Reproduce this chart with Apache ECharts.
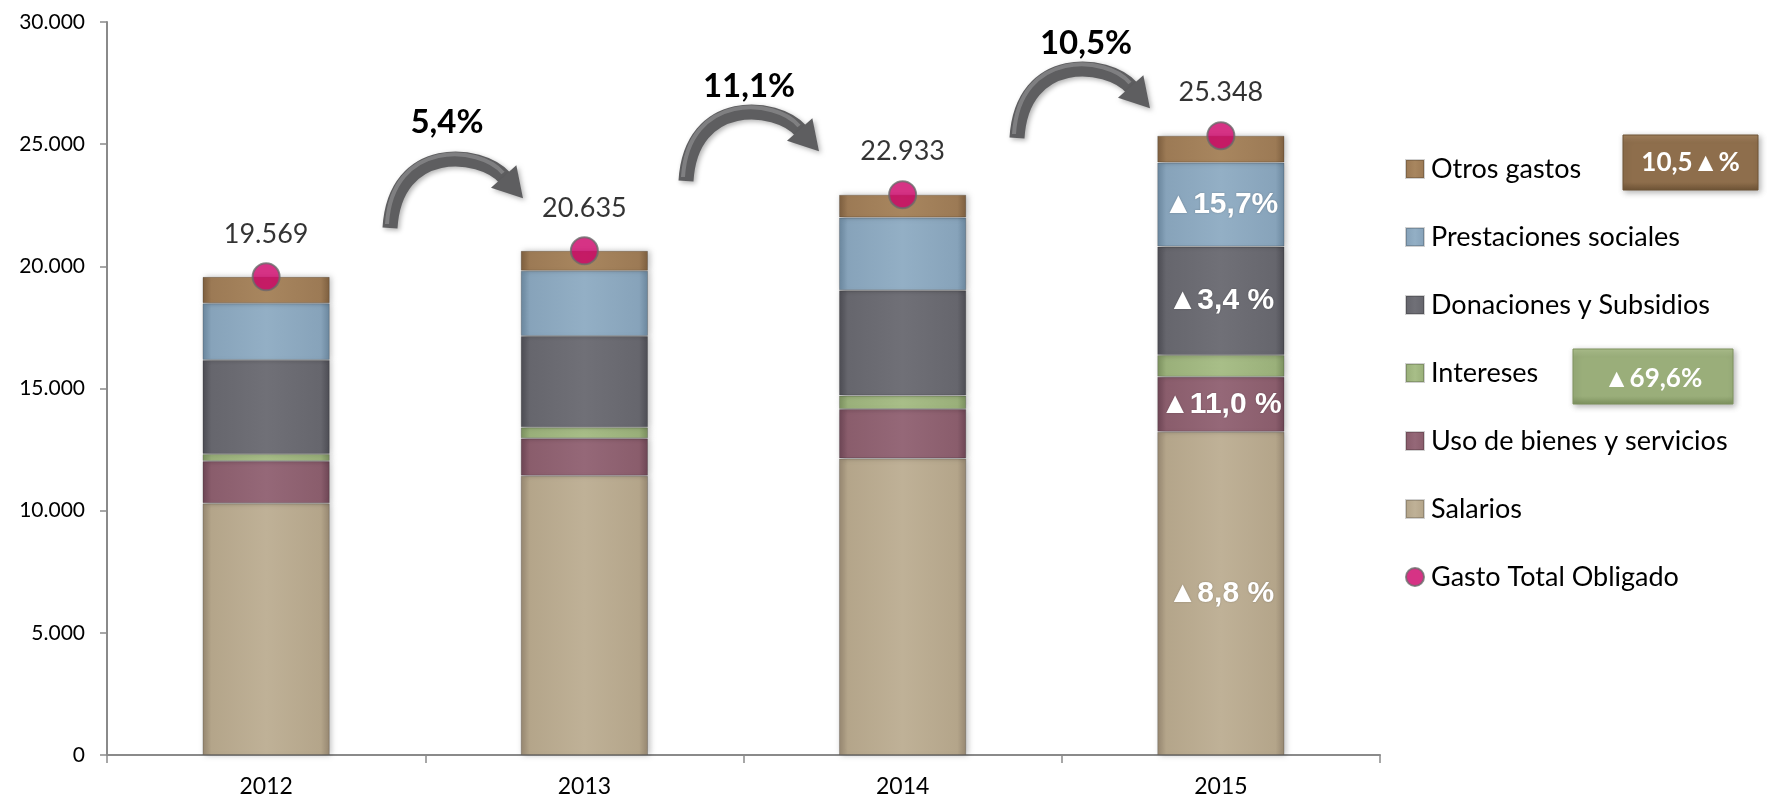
<!DOCTYPE html>
<html>
<head>
<meta charset="utf-8">
<script src="https://cdn.jsdelivr.net/npm/echarts@6/dist/echarts.min.js"></script>
<style>
html,body{margin:0;padding:0;background:#fff;}
#main{width:1773px;height:800px;}
</style>
</head>
<body>
<div id="main"></div>
<script>
const years = ['2012', '2013', '2014', '2015'];
const salarios = [10300, 11430, 12140, 13230];
const usoBienes = [1730, 1530, 2020, 2250];
const intereses = [290, 450, 550, 890];
const donaciones = [3850, 3740, 4310, 4440];
const prestaciones = [2320, 2670, 2980, 3440];
const otrosGastos = [1079, 815, 933, 1098];
const gastoTotal = [19569, 20635, 22933, 25348];
const yTicks = [0, 5000, 10000, 15000, 20000, 25000, 30000];
const totalGrowth = ['5,4%', '11,1%', '10,5%'];
const growth2015 = {
  salarios: '▲8,8 %',
  uso: '▲11,0 %',
  donaciones: '▲3,4 %',
  prestaciones: '▲15,7%'
};
const badgeOtros = '10,5▲%';
const badgeIntereses = '▲69,6%';

const fmt = v => String(v).replace(/\B(?=(\d{3})+(?!\d))/g, '.');

function bevel(base, light, dark) {
  return new echarts.graphic.LinearGradient(0, 0, 1, 0, [
    {offset: 0, color: dark},
    {offset: 0.07, color: base},
    {offset: 0.5, color: light},
    {offset: 0.93, color: base},
    {offset: 1, color: dark}
  ]);
}

const inLabel = {
  show: true, position: 'inside', color: '#fff', fontWeight: 'bold',
  fontFamily: 'Liberation Sans, Arial, sans-serif', fontSize: 30,
  textShadowColor: 'rgba(0,0,0,0.25)', textShadowBlur: 2
};

function withLabel(arr, text) {
  return arr.map((v, i) => (i === 3 && text) ? {value: v, label: Object.assign({}, inLabel, {formatter: text})} : v);
}

function barSeries(name, data, base, light, dark, text) {
  return {
    name: name, type: 'bar', stack: 'g', barWidth: '40%',
    data: withLabel(data, text),
    itemStyle: {
      color: bevel(base, light, dark),
      borderColor: 'rgba(0,0,0,0.18)', borderWidth: 1,
      shadowBlur: 6, shadowColor: 'rgba(0,0,0,0.25)', shadowOffsetX: 2
    },
    emphasis: {disabled: true}
  };
}

const chart = echarts.init(document.getElementById('main'), null, {renderer: 'canvas'});

// curved arrows (decoration)
const arrowTails = [[390, 228], [686, 181], [1017, 138]];
const labelPos = [[447, 122], [749, 86], [1086, 43]];
const graphics = [];
arrowTails.forEach((t, i) => {
  const [x, y] = t;
  const E = [x + 115, y - 50];
  const cp1 = [x + 5, y - 85];
  const cp2 = [x + 90, y - 78];
  const dx = E[0] - cp2[0], dy = E[1] - cp2[1];
  const L = Math.hypot(dx, dy);
  const ux = dx / L, uy = dy / L;
  const px = -uy, py = ux;
  const hw = 17, hl = 27;
  graphics.push({
    type: 'bezierCurve', z: 50,
    shape: {x1: x, y1: y, cpx1: cp1[0], cpy1: cp1[1], cpx2: cp2[0], cpy2: cp2[1], x2: E[0], y2: E[1]},
    style: {stroke: '#5e5e60', lineWidth: 15, fill: null, shadowBlur: 5, shadowColor: 'rgba(0,0,0,0.3)', shadowOffsetX: 2, shadowOffsetY: 2}
  });
  graphics.push({
    type: 'bezierCurve', z: 51,
    shape: {x1: x - 3, y1: y - 4, cpx1: cp1[0] - 3, cpy1: cp1[1] - 4, cpx2: cp2[0], cpy2: cp2[1] - 5, x2: E[0] - 2, y2: E[1] - 5},
    style: {stroke: 'rgba(150,150,152,0.6)', lineWidth: 4, fill: null}
  });
  graphics.push({
    type: 'polygon', z: 52,
    shape: {points: [
      [E[0] + px * hw - ux * 2, E[1] + py * hw - uy * 2],
      [E[0] + ux * hl, E[1] + uy * hl],
      [E[0] - px * hw - ux * 2, E[1] - py * hw - uy * 2]
    ]},
    style: {fill: '#5e5e60', shadowBlur: 5, shadowColor: 'rgba(0,0,0,0.3)', shadowOffsetX: 2, shadowOffsetY: 2}
  });
  graphics.push({
    type: 'text', z: 60, x: labelPos[i][0], y: labelPos[i][1],
    style: {text: totalGrowth[i], fill: '#000', font: 'bold 33px Lato, sans-serif', align: 'center', verticalAlign: 'middle'}
  });
});

function badge(x, y, w, h, base, light, dark, text, ty) {
  graphics.push({
    type: 'rect', z: 40,
    shape: {x: x, y: y, width: w, height: h},
    style: {
      fill: new echarts.graphic.LinearGradient(0, 0, 0, 1, [
        {offset: 0, color: light}, {offset: 0.15, color: base}, {offset: 0.85, color: base}, {offset: 1, color: dark}
      ]),
      stroke: dark, lineWidth: 1,
      shadowBlur: 6, shadowColor: 'rgba(0,0,0,0.3)', shadowOffsetX: 2, shadowOffsetY: 2
    }
  });
  graphics.push({
    type: 'text', z: 41, x: x + w / 2, y: ty,
    style: {text: text, fill: '#fff', font: 'bold 26px Lato, sans-serif', align: 'center', verticalAlign: 'middle'}
  });
}
badge(1623, 135, 135, 55, '#8E6E4C', '#A3825E', '#6F5436', badgeOtros, 163);
badge(1573, 349, 160, 55, '#9AAE7A', '#AFC28F', '#7E925F', badgeIntereses, 379);

const option = {
  backgroundColor: '#fff',
  animation: false,
  grid: {left: 107, right: 393, top: 22, bottom: 45},
  legend: {
    orient: 'vertical', left: 1400, top: 147, itemGap: 34,
    itemWidth: 18, itemHeight: 18,
    selectedMode: false,
    textStyle: {fontFamily: 'Lato, sans-serif', fontSize: 27, color: '#000', lineHeight: 34, padding: [0, 0, 0, 2]},
    data: [
      {name: 'Otros gastos', icon: 'rect'},
      {name: 'Prestaciones sociales', icon: 'rect'},
      {name: 'Donaciones y Subsidios', icon: 'rect'},
      {name: 'Intereses', icon: 'rect'},
      {name: 'Uso de bienes y servicios', icon: 'rect'},
      {name: 'Salarios', icon: 'rect'},
      {name: 'Gasto Total Obligado', icon: 'circle'}
    ]
  },
  xAxis: {
    type: 'category', data: years,
    axisLine: {lineStyle: {color: '#8a8a8a', width: 2}},
    axisTick: {show: true, length: 8, lineStyle: {color: '#8a8a8a', width: 1.5}},
    axisLabel: {fontFamily: 'Lato, sans-serif', fontSize: 23, color: '#000', margin: 20}
  },
  yAxis: {
    type: 'value', min: yTicks[0], max: yTicks[yTicks.length - 1], interval: yTicks[1] - yTicks[0],
    axisLine: {show: true, lineStyle: {color: '#8a8a8a', width: 2}},
    axisTick: {show: true, length: 7, lineStyle: {color: '#8a8a8a', width: 1.5}},
    splitLine: {show: false},
    axisLabel: {fontFamily: 'Lato, sans-serif', fontSize: 21, color: '#000', margin: 22, formatter: v => fmt(v)}
  },
  series: [
    barSeries('Salarios', salarios, '#B4A58A', '#BFB197', '#958670', growth2015.salarios),
    barSeries('Uso de bienes y servicios', usoBienes, '#8A5D6C', '#956878', '#6C4554', growth2015.uso),
    barSeries('Intereses', intereses, '#9AB07A', '#A8BE88', '#7A8F5E', ''),
    barSeries('Donaciones y Subsidios', donaciones, '#66666D', '#707077', '#4C4C53', growth2015.donaciones),
    barSeries('Prestaciones sociales', prestaciones, '#87A3BA', '#93AFC5', '#6A869D', growth2015.prestaciones),
    barSeries('Otros gastos', otrosGastos, '#9C7A55', '#A8865F', '#7C5E3F', ''),
    {
      name: 'Gasto Total Obligado', type: 'scatter', data: gastoTotal, z: 10,
      symbol: 'circle', symbolSize: 27,
      itemStyle: {color: '#CC0066', borderColor: '#6a6a6a', borderWidth: 2},
      label: {show: true, position: 'top', distance: 15, fontFamily: 'Lato, sans-serif', fontSize: 27, color: '#000', formatter: p => fmt(p.value)},
      emphasis: {disabled: true}
    }
  ],
  graphic: graphics
};
chart.setOption(option);
</script>
</body>
</html>
